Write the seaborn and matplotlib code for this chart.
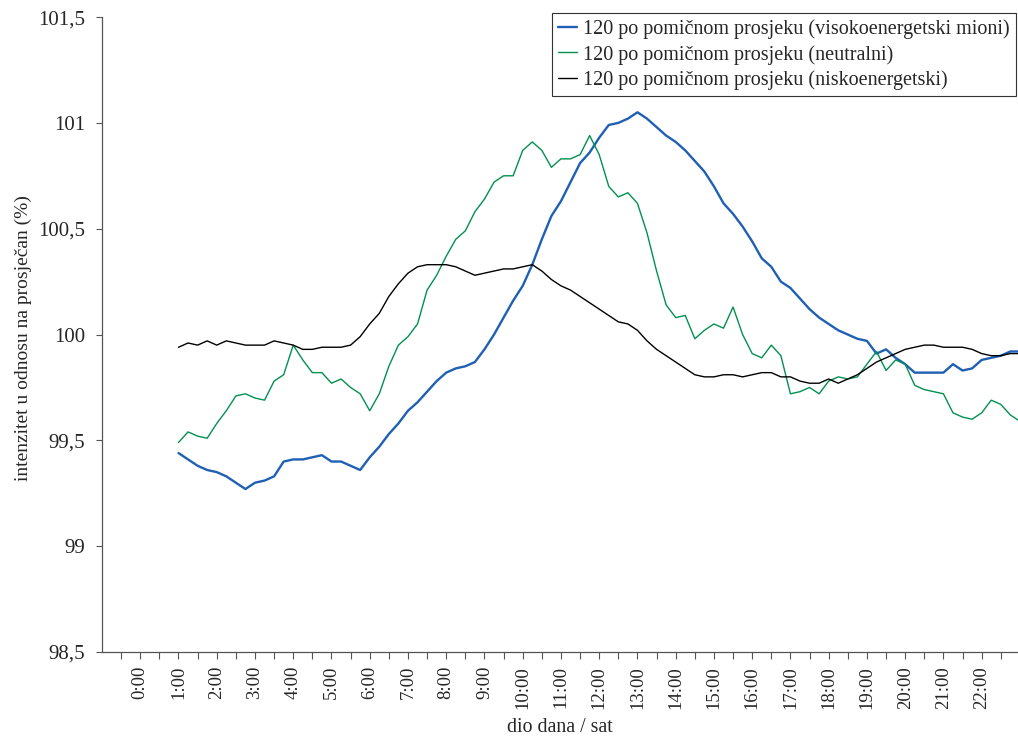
import numpy as np
import pandas as pd
import matplotlib
matplotlib.use("Agg")
import matplotlib.pyplot as plt
import matplotlib.ticker as mticker
import seaborn as sns

# time of day in hours, one reading every 15 min (moving average of 120)
hours = np.arange(1.0, 23.01, 0.25)

visoko = [99.44, 99.41, 99.38, 99.36, 99.35, 99.33, 99.30, 99.27, 99.30, 99.31,
          99.33, 99.40, 99.41, 99.41, 99.42, 99.43, 99.40, 99.40, 99.38, 99.36,
          99.42, 99.47, 99.53, 99.58, 99.64, 99.68, 99.73, 99.78, 99.82, 99.84,
          99.85, 99.87, 99.93, 100.00, 100.08, 100.16, 100.23, 100.33, 100.45, 100.56,
          100.63, 100.72, 100.81, 100.86, 100.93, 100.99, 101.00, 101.02, 101.05, 101.02,
          100.98, 100.94, 100.91, 100.87, 100.82, 100.77, 100.70, 100.62, 100.57, 100.51,
          100.44, 100.36, 100.32, 100.25, 100.22, 100.17, 100.12, 100.08, 100.05, 100.02,
          100.00, 99.98, 99.97, 99.91, 99.93, 99.89, 99.86, 99.82, 99.82, 99.82,
          99.82, 99.86, 99.83, 99.84, 99.88, 99.89, 99.90, 99.92, 99.92]

neutralni = [99.49, 99.54, 99.52, 99.51, 99.58, 99.64, 99.71, 99.72, 99.70, 99.69,
             99.78, 99.81, 99.95, 99.88, 99.82, 99.82, 99.77, 99.79, 99.75, 99.72,
             99.64, 99.72, 99.85, 99.95, 99.99, 100.05, 100.21, 100.28, 100.37, 100.45,
             100.49, 100.58, 100.64, 100.72, 100.75, 100.75, 100.87, 100.91, 100.87, 100.79,
             100.83, 100.83, 100.85, 100.94, 100.85, 100.70, 100.65, 100.67, 100.62, 100.48,
             100.30, 100.14, 100.08, 100.09, 99.98, 100.02, 100.05, 100.03, 100.13, 100.00,
             99.91, 99.89, 99.95, 99.90, 99.72, 99.73, 99.75, 99.72, 99.78, 99.80,
             99.79, 99.80, 99.86, 99.92, 99.83, 99.88, 99.86, 99.76, 99.74, 99.73,
             99.72, 99.63, 99.61, 99.60, 99.63, 99.69, 99.67, 99.62, 99.59]

nisko = [99.94, 99.96, 99.95, 99.97, 99.95, 99.97, 99.96, 99.95, 99.95, 99.95,
         99.97, 99.96, 99.95, 99.93, 99.93, 99.94, 99.94, 99.94, 99.95, 99.99,
         100.05, 100.10, 100.18, 100.24, 100.29, 100.32, 100.33, 100.33, 100.33, 100.32,
         100.30, 100.28, 100.29, 100.30, 100.31, 100.31, 100.32, 100.33, 100.30, 100.26,
         100.23, 100.21, 100.18, 100.15, 100.12, 100.09, 100.06, 100.05, 100.02, 99.97,
         99.93, 99.90, 99.87, 99.84, 99.81, 99.80, 99.80, 99.81, 99.81, 99.80,
         99.81, 99.82, 99.82, 99.80, 99.80, 99.78, 99.77, 99.77, 99.79, 99.77,
         99.79, 99.81, 99.84, 99.87, 99.89, 99.91, 99.93, 99.94, 99.95, 99.95,
         99.94, 99.94, 99.94, 99.93, 99.91, 99.90, 99.90, 99.91, 99.91]

labels = ["120 po pomičnom prosjeku (visokoenergetski mioni)",
          "120 po pomičnom prosjeku (neutralni)",
          "120 po pomičnom prosjeku (niskoenergetski)"]
colors = ["#1f5fb4", "#009150", "#000000"]
widths = [1.7, 1.0, 1.0]

sns.set_style("white")
plt.rcParams['font.family'] = ['Liberation Serif', 'DejaVu Serif']

fig = plt.figure(figsize=(10.18, 7.38), dpi=100)
ax = fig.add_axes([0.1002, 0.1165, 0.8998, 0.8604])

for vals, lab, col, lw in zip([visoko, neutralni, nisko], labels, colors, widths):
    sns.lineplot(x=hours, y=vals, ax=ax, color=col, linewidth=lw, label=lab)

ax.set_xlim(-1.0, 22.95)
ax.set_ylim(98.5, 101.5)

xt = np.arange(-0.5, 22.6, 0.5)
ax.set_xticks(xt)
ax.set_xticklabels([f"{int(t)}:00" if t >= 0 and t == int(t) else "" for t in xt],
                   rotation=90, fontsize=13.5)
ax.set_yticks([98.5, 99, 99.5, 100, 100.5, 101, 101.5])
ax.yaxis.set_major_formatter(mticker.FuncFormatter(lambda v, p: f"{v:g}".replace('.', ',')))
ax.tick_params(axis='y', labelsize=15, length=4, width=0.8, direction='out', left=True, pad=8,
               color='#555555')
ax.tick_params(axis='x', length=5, width=0.8, direction='out', bottom=True, pad=5,
               color='#555555')

for s in ['top', 'right']:
    ax.spines[s].set_visible(False)
for s in ['left', 'bottom']:
    ax.spines[s].set_color('#555555')
    ax.spines[s].set_linewidth(0.9)

ax.set_ylabel("intenzitet u odnosu na prosječan (%)", fontsize=14)
ax.set_xlabel("dio dana / sat", fontsize=14.3)
ax.yaxis.set_label_coords(-0.076, 0.494)
ax.xaxis.set_label_coords(0.5, -0.104)

leg = ax.legend(loc='upper right', bbox_to_anchor=(0.998, 0.9824), bbox_transform=fig.transFigure,
                fontsize=14.5, frameon=True, fancybox=False, framealpha=1, edgecolor='#333333',
                handlelength=0.95, handletextpad=0.3, borderpad=0.3, labelspacing=0.3,
                borderaxespad=0)
leg.get_frame().set_linewidth(0.8)

fig.savefig("out.png", dpi=100)
